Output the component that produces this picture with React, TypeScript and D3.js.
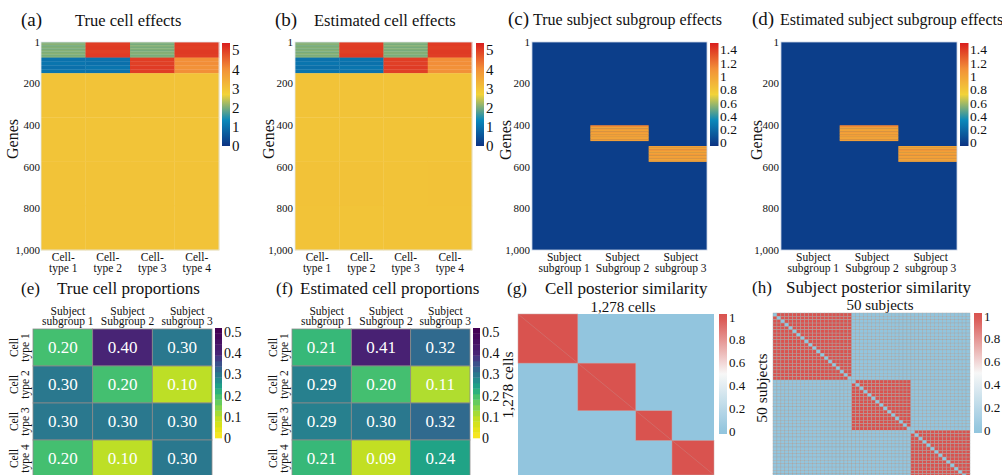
import React from "react";
import * as d3 from "d3";

const W = 1002;
const H = 475;
const FONT = '"Liberation Serif", "Times New Roman", serif';

// ---------- data ----------
const nGenes = 1000;
const geneTicks = [1, 200, 400, 600, 800, 1000];
const cellTypeLabels = [["Cell-", "type 1"], ["Cell-", "type 2"], ["Cell-", "type 3"], ["Cell-", "type 4"]];
const subgroupLabels = [["Subject", "subgroup 1"], ["Subject", "Subgroup 2"], ["Subject", "subgroup 3"]];
const cellRowLabels = [["Cell", "type 1"], ["Cell", "type 2"], ["Cell", "type 3"], ["Cell", "type 4"]];

// gene blocks (first, last gene) and cell effects per block / cell type (stripes top to bottom)
const geneBlocks = [[1, 75], [76, 150], [151, 1000]];
const trueCellEffects = [
  [[2.0, 2.08, 1.96, 2.05, 1.97, 2.06, 2.0, 2.08, 1.98, 2.04], [5.0, 5.04, 4.97, 5.02], [2.04, 1.97, 2.07, 1.98, 2.05, 1.96, 2.03, 2.07, 1.98, 2.02], [5.0, 4.98, 5.04, 5.0]],
  [[1.0, 1.04, 0.97, 1.02], [1.0, 0.97, 1.04, 1.0], [5.0, 4.97, 5.02, 5.0], [4.0, 4.04, 3.97, 4.02]],
  [[3.0, 2.98, 3.01, 3.0], [3.0, 2.98, 3.01, 3.0], [3.0, 2.98, 3.01, 3.0], [3.0, 2.98, 3.01, 3.0]],
];
const estCellEffects = [
  [[2.02, 2.07, 1.96, 2.05, 1.98, 2.06, 1.97, 2.07, 1.99, 2.04], [5.0, 5.03, 4.97, 5.04], [2.04, 1.98, 2.07, 1.97, 2.05, 1.97, 2.03, 2.06, 1.98, 2.03], [5.02, 4.98, 5.04, 5.0]],
  [[1.0, 1.04, 0.96, 1.02], [1.02, 0.98, 1.04, 1.0], [5.0, 4.98, 5.03, 4.98], [4.02, 4.04, 3.98, 4.0]],
  [[3.0, 2.98, 3.02, 3.0], [3.0, 2.98, 3.02, 2.99], [3.0, 2.98, 3.01, 3.0], [3.0, 2.98, 3.02, 3.0]],
];

// subject subgroup effects: (first gene, last gene, subgroup index)
const subgroupBlocks = [[401, 475, 1], [501, 575, 2]];
const trueSubgroupEffects = [
  [1.15, 1.0, 1.03, 0.99, 1.04, 1.0, 1.02, 0.99, 1.0, 1.02],
  [1.02, 0.99, 1.07, 1.0, 0.98, 1.06, 1.0, 1.03, 0.99, 1.01],
];
const estSubgroupEffects = [
  [1.15, 1.02, 1.0, 0.99, 1.04, 1.0, 1.03, 0.99, 1.0, 1.02],
  [1.0, 0.99, 1.07, 1.02, 0.98, 1.06, 1.0, 1.03, 1.0, 1.01],
];

const trueProportions = [
  [0.2, 0.4, 0.3],
  [0.3, 0.2, 0.1],
  [0.3, 0.3, 0.3],
  [0.2, 0.1, 0.3],
];
const estProportions = [
  [0.21, 0.41, 0.32],
  [0.29, 0.2, 0.11],
  [0.29, 0.3, 0.32],
  [0.21, 0.09, 0.24],
];

const nCells = 1278;
const cellClusterSizes = [390, 378, 236, 274];
const nSubjects = 50;
const subjectClusterSizes = [20, 15, 15];

const effectTicks = [0, 1, 2, 3, 4, 5];
const subgroupTicks = [0, 0.2, 0.4, 0.6, 0.8, 1, 1.2, 1.4];
const propTicks = [0, 0.1, 0.2, 0.3, 0.4, 0.5];
const simTicks = [0, 0.2, 0.4, 0.6, 0.8, 1];

// ---------- colour scales ----------
const portlandColors = ["#0c3383", "#0a88ba", "#f2d338", "#f28f38", "#d91e1e"];
function portland(lo: number, hi: number) {
  return d3
    .scaleLinear<string>()
    .domain(d3.range(5).map((i) => lo + ((hi - lo) * i) / 4))
    .range(portlandColors)
    .interpolate(d3.interpolateRgb)
    .clamp(true);
}
const effectColor = portland(0, 5.37);
const subgroupColor = portland(-0.05, 1.5);
const propT = d3.scaleLinear().domain([0, 0.1, 0.2, 0.3, 0.4, 0.5]).range([1, 0.9, 0.7, 0.4, 0.1, 0]).clamp(true);
const propColor = (v: number) => d3.interpolateViridis(propT(v));
const simColor = d3
  .scaleLinear<string>()
  .domain([0, 0.5, 1])
  .range(["#92c5de", "#f7f7f7", "#d9534f"])
  .clamp(true);

const fmtTick = (v: number) => String(+v.toFixed(2));

// ---------- pieces ----------
function Colorbar(props: {
  id: string; x: number; w: number; y0: number; y1: number; lo: number; hi: number;
  color: (v: number) => string; ticks: number[]; fontSize: number; labelX: number; steps?: number;
}) {
  const { id, x, w, y0, y1, lo, hi, color, ticks, fontSize, labelX, steps } = props;
  const y = d3.scaleLinear().domain([lo, hi]).range([y1, y0]);
  const stops = d3.range(0, 1.0001, 0.05).map((t) => lo + (hi - lo) * t);
  return (
    <g>
      {steps ? (
        d3.range(steps).map((i) => {
          const a = lo + ((hi - lo) * i) / steps;
          const b = lo + ((hi - lo) * (i + 1)) / steps;
          return <rect key={i} x={x} y={y(b)} width={w} height={y(a) - y(b) + 0.3} fill={color((a + b) / 2)} />;
        })
      ) : (
        <>
          <defs>
            <linearGradient id={id} x1="0" y1="1" x2="0" y2="0">
              {stops.map((v, i) => (
                <stop key={i} offset={i / (stops.length - 1)} stopColor={color(v)} />
              ))}
            </linearGradient>
          </defs>
          <rect x={x} y={y0} width={w} height={y1 - y0} fill={`url(#${id})`} />
        </>
      )}
      {ticks.map((t) => (
        <text key={t} x={labelX} y={y(t)} dy="0.35em" fontSize={fontSize}>
          {fmtTick(t)}
        </text>
      ))}
    </g>
  );
}

function GeneAxis(props: { yScale: d3.ScaleLinear<number, number>; x: number; labelX: number; labelY: number }) {
  const { yScale, x, labelX, labelY } = props;
  return (
    <g>
      {geneTicks.map((t) => (
        <text key={t} x={x} y={yScale(t)} dy="0.35em" textAnchor="end" fontSize={11}>
          {d3.format(",")(t)}
        </text>
      ))}
      <text transform={`translate(${labelX},${labelY}) rotate(-90)`} textAnchor="middle" dy="0.35em" fontSize={16}>
        Genes
      </text>
    </g>
  );
}

function ColLabels(props: { xScale: d3.ScaleBand<number>; labels: string[][]; y: number; fontSize: number; dx?: number }) {
  const { xScale, labels, y, fontSize, dx = 0 } = props;
  return (
    <g>
      {labels.map((l, i) => (
        <text key={i} x={xScale(i)! + xScale.bandwidth() / 2 + dx} y={y} textAnchor="middle" fontSize={fontSize}>
          <tspan x={xScale(i)! + xScale.bandwidth() / 2 + dx}>{l[0]}</tspan>
          <tspan x={xScale(i)! + xScale.bandwidth() / 2 + dx} dy={fontSize * 0.92}>
            {l[1]}
          </tspan>
        </text>
      ))}
    </g>
  );
}

function CellEffects(props: { x0: number; x1: number; data: number[][][]; tickX: number; genesX: number; cbX: number }) {
  const { x0, x1, data, tickX, genesX, cbX } = props;
  const y = d3.scaleLinear().domain([0.5, nGenes + 0.5]).range([42, 250]);
  const x = d3.scaleBand<number>().domain(d3.range(4)).range([x0, x1]);
  return (
    <g>
      {geneBlocks.map(([g0, g1], b) =>
        data[b].map((stripes, c) =>
          stripes.map((v, k) => {
            const len = (g1 - g0 + 1) / stripes.length;
            const ya = y(g0 - 0.5 + k * len);
            const yb = y(g0 - 0.5 + (k + 1) * len);
            return <rect key={`${b}-${c}-${k}`} x={x(c)} y={ya} width={x.bandwidth() + 0.3} height={yb - ya + 0.3} fill={effectColor(v)} />;
          })
        )
      )}
      <rect x={x0} y={42} width={x1 - x0} height={208} fill="none" stroke="#e4e8ee" strokeWidth={0.8} />
      <GeneAxis yScale={y} x={tickX} labelX={genesX} labelY={139} />
      <ColLabels xScale={x} labels={cellTypeLabels} y={261} fontSize={11.5} />
      <Colorbar id={`cb-eff-${cbX}`} x={cbX} w={8} y0={43} y1={146} lo={0} hi={5.37} color={effectColor} ticks={effectTicks} fontSize={15} labelX={cbX + 10} />
    </g>
  );
}

function SubgroupEffects(props: { x0: number; x1: number; data: number[][]; tickX: number; genesX: number; cbX: number }) {
  const { x0, x1, data, tickX, genesX, cbX } = props;
  const y = d3.scaleLinear().domain([0.5, nGenes + 0.5]).range([42, 250]);
  const x = d3.scaleBand<number>().domain(d3.range(3)).range([x0, x1]);
  return (
    <g>
      <rect x={x0} y={42} width={x1 - x0} height={208} fill={subgroupColor(0)} />
      {subgroupBlocks.map(([g0, g1, s], b) =>
        data[b].map((v, k) => {
          const len = (g1 - g0 + 1) / data[b].length;
          const ya = y(g0 - 0.5 + k * len);
          const yb = y(g0 - 0.5 + (k + 1) * len);
          return <rect key={`${b}-${k}`} x={x(s)} y={ya} width={x.bandwidth()} height={yb - ya + 0.3} fill={subgroupColor(v)} />;
        })
      )}
      <rect x={x0} y={42} width={x1 - x0} height={208} fill="none" stroke="#c9d3e3" strokeWidth={0.8} />
      <GeneAxis yScale={y} x={tickX} labelX={genesX} labelY={140} />
      <ColLabels xScale={x} labels={subgroupLabels} y={261} fontSize={11.5} dx={3} />
      <Colorbar id={`cb-sub-${cbX}`} x={cbX} w={8.5} y0={43} y1={146} lo={-0.05} hi={1.5} color={subgroupColor} ticks={subgroupTicks} fontSize={13.5} labelX={cbX + 10} />
    </g>
  );
}

function Proportions(props: { x0: number; x1: number; data: number[][]; rowLabelX: number; cbX: number }) {
  const { x0, x1, data, rowLabelX, cbX } = props;
  const x = d3.scaleBand<number>().domain(d3.range(3)).range([x0, x1]);
  const y = d3.scaleBand<number>().domain(d3.range(4)).range([329, 477]);
  return (
    <g>
      {data.map((row, r) =>
        row.map((v, c) => (
          <g key={`${r}-${c}`}>
            <rect x={x(c)} y={y(r)} width={x.bandwidth()} height={y.bandwidth()} fill={propColor(v)} stroke="#8a8a8a" strokeWidth={0.8} />
            <text x={x(c)! + x.bandwidth() / 2} y={y(r)! + y.bandwidth() / 2} dy="0.35em" textAnchor="middle" fontSize={17} fill="#fff">
              {v.toFixed(2)}
            </text>
          </g>
        ))
      )}
      <ColLabels xScale={x} labels={subgroupLabels} y={314.5} fontSize={11.5} dx={5} />
      {cellRowLabels.map((l, r) => (
        <text key={r} transform={`translate(${rowLabelX},${y(r)! + y.bandwidth() / 2}) rotate(-90)`} textAnchor="middle" fontSize={11.5}>
          <tspan x={0}>{l[0]}</tspan>
          <tspan x={0} dy={11}>
            {l[1]}
          </tspan>
        </text>
      ))}
      <Colorbar id={`cb-prop-${cbX}`} x={cbX} w={7} y0={328} y1={438} lo={0} hi={0.519} color={propColor} ticks={propTicks} fontSize={14} labelX={cbX + 9} steps={20} />
    </g>
  );
}

function CellSimilarity() {
  const x = d3.scaleLinear().domain([0, nCells]).range([518, 714]);
  const y = d3.scaleLinear().domain([0, nCells]).range([314, 475]);
  const starts = d3.cumsum([0, ...cellClusterSizes]);
  return (
    <g>
      <rect x={518} y={314} width={196} height={161} fill={simColor(0)} />
      {cellClusterSizes.map((n, i) => (
        <rect key={i} x={x(starts[i])} y={y(starts[i])} width={x(starts[i] + n) - x(starts[i])} height={y(starts[i] + n) - y(starts[i])} fill={simColor(1)} stroke="#c9a3a3" strokeWidth={0.5} />
      ))}
      <line x1={x(0)} y1={y(0)} x2={x(nCells)} y2={y(nCells)} stroke="#c98c8a" strokeWidth={0.6} opacity={0.7} />
      <text x={623} y={312} textAnchor="middle" fontSize={15}>
        1,278 cells
      </text>
      <text transform={`translate(508,385) rotate(-90)`} textAnchor="middle" dy="0.35em" fontSize={15.5}>
        1,278 cells
      </text>
      <Colorbar id="cb-cell" x={719} w={8} y0={314} y1={434} lo={-0.026} hi={1.026} color={simColor} ticks={simTicks} fontSize={13} labelX={729} />
    </g>
  );
}

function SubjectSimilarity() {
  const idx = d3.range(nSubjects);
  const cluster = subjectClusterSizes.flatMap((n, i) => d3.range(n).map(() => i));
  const x = d3.scaleBand<number>().domain(idx).range([773, 970]);
  const y = d3.scaleBand<number>().domain(idx).range([313, 313 + 50 * 3.35]);
  return (
    <g>
      {idx.map((r) =>
        idx.map((c) => {
          const v = r === c ? 0 : cluster[r] === cluster[c] ? 1 : 0;
          return <rect key={`${r}-${c}`} x={x(c)} y={y(r)} width={x.bandwidth()} height={y.bandwidth()} fill={simColor(v)} stroke="#a4a4a4" strokeWidth={0.4} />;
        })
      )}
      <text x={880} y={310} textAnchor="middle" fontSize={15}>
        50 subjects
      </text>
      <text transform={`translate(762,388) rotate(-90)`} textAnchor="middle" dy="0.35em" fontSize={15.5}>
        50 subjects
      </text>
      <Colorbar id="cb-subj" x={974} w={8} y0={313} y1={433} lo={-0.026} hi={1.026} color={simColor} ticks={simTicks} fontSize={13} labelX={984} />
    </g>
  );
}

function Title(props: { lx: number; tx: number; y: number; label: string; title: string; lfs: number; tfs: number }) {
  const { lx, tx, y, label, title, lfs, tfs } = props;
  return (
    <g>
      <text x={lx} y={y} fontSize={lfs}>
        {label}
      </text>
      <text x={tx} y={y} fontSize={tfs}>
        {title}
      </text>
    </g>
  );
}

export default function App() {
  return (
    <div style={{ position: "absolute", left: 0, top: 0 }}>
      <svg width={W} height={H} style={{ display: "block", background: "#fff", fontFamily: FONT }} fill="#111">
        <CellEffects x0={41} x1={219} data={trueCellEffects} tickX={40} genesX={12} cbX={222} />
        <CellEffects x0={295} x1={472} data={estCellEffects} tickX={293} genesX={268} cbX={476} />
        <SubgroupEffects x0={532} x1={707} data={trueSubgroupEffects} tickX={530} genesX={505} cbX={710} />
        <SubgroupEffects x0={781} x1={957} data={estSubgroupEffects} tickX={779} genesX={756} cbX={960} />

        <Proportions x0={33} x1={212} data={trueProportions} rowLabelX={18} cbX={215} />
        <Proportions x0={292} x1={470} data={estProportions} rowLabelX={277} cbX={473} />
        <CellSimilarity />
        <SubjectSimilarity />

        <Title lx={21} tx={75} y={26} label="(a)" title="True cell effects" lfs={19} tfs={16.5} />
        <Title lx={275} tx={314} y={26} label="(b)" title="Estimated cell effects" lfs={19} tfs={16.5} />
        <Title lx={508} tx={533} y={25} label="(c)" title="True subject subgroup effects" lfs={19} tfs={16} />
        <Title lx={752} tx={780} y={25} label="(d)" title="Estimated subject subgroup effects" lfs={19} tfs={16} />
        <Title lx={21} tx={57} y={294} label="(e)" title="True cell proportions" lfs={17} tfs={17} />
        <Title lx={276} tx={300} y={294} label="(f)" title="Estimated cell proportions" lfs={17} tfs={17} />
        <Title lx={507} tx={545} y={294} label="(g)" title="Cell posterior similarity" lfs={17} tfs={17} />
        <Title lx={752} tx={786} y={293} label="(h)" title="Subject posterior similarity" lfs={17} tfs={17} />
      </svg>
    </div>
  );
}
